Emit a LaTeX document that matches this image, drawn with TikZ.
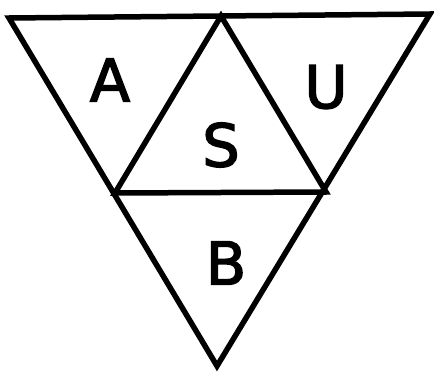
\documentclass[tikz,border=0pt]{standalone}
\usepackage{fontspec}
\setmainfont[FakeBold=2.5,BoldFont={DejaVu Sans}]{DejaVu Sans}
\begin{document}
\begin{tikzpicture}[x=1pt,y=-1pt,
  edge/.style={line width=5.5pt,line join=miter,line cap=round},
  lbl/.style={font=\fontsize{59}{59}\selectfont\bfseries,inner sep=0pt}]
\useasboundingbox (0,0) rectangle (434,372);
\coordinate (TL) at (9,18);
\coordinate (TR) at (430,14);
\coordinate (BO) at (217,366);
\coordinate (TM) at (221,16);
\coordinate (LM) at (115,193);
\coordinate (RM) at (326,192);
\draw[edge] (TL) -- (TR) -- (BO) -- cycle;
\draw[edge] (TM) -- (LM) -- (RM) -- cycle;
\node[lbl] (A) at (110,80) {A};
\node[lbl] (U) at (326,87) {U};
\node[lbl] (S) at (221,145) {S};
\node[lbl] (B) at (226,263) {B};
\end{tikzpicture}
\end{document}
